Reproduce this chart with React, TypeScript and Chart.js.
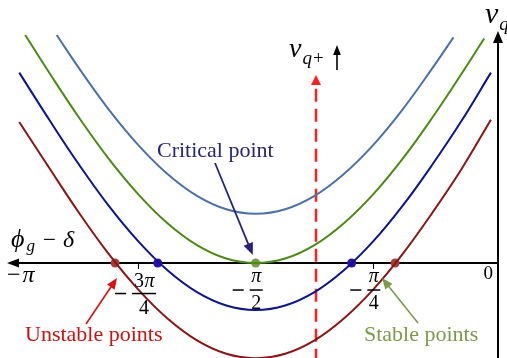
import React, { useEffect, useRef } from "react";
import { Chart, registerables } from "chart.js";

Chart.register(...registerables);

// ---- data (phase angle φg − δ in rad, value in curve units) ----
const phiLightBlue = [-2.9, -2.749, -2.553, -2.356, -2.16, -1.963, -1.767, -1.571, -1.374, -1.178, -0.982, -0.785, -0.589, -0.393, -0.25];
const vLightBlue = [0.97, 0.827, 0.654, 0.503, 0.379, 0.286, 0.229, 0.21, 0.229, 0.286, 0.379, 0.503, 0.654, 0.827, 0.96];

const phiGreen = [-3.11, -2.945, -2.749, -2.553, -2.356, -2.16, -1.963, -1.767, -1.571, -1.374, -1.178, -0.982, -0.785, -0.589, -0.393, -0.196, -0.045];
const vGreen = [0.97, 0.805, 0.617, 0.444, 0.293, 0.169, 0.076, 0.019, 0, 0.019, 0.076, 0.169, 0.293, 0.444, 0.617, 0.805, 0.955];

const phiBlue = [-3.15, -2.945, -2.749, -2.553, -2.356, -2.16, -1.963, -1.767, -1.571, -1.374, -1.178, -0.982, -0.785, -0.589, -0.393, -0.196, 0];
const vBlue = [0.81, 0.605, 0.417, 0.244, 0.093, -0.031, -0.124, -0.181, -0.2, -0.181, -0.124, -0.031, 0.093, 0.244, 0.417, 0.605, 0.81];

const phiRed = [-3.15, -2.945, -2.749, -2.553, -2.356, -2.16, -1.963, -1.767, -1.571, -1.374, -1.178, -0.982, -0.785, -0.589, -0.393, -0.196, 0];
const vRed = [0.6, 0.4, 0.212, 0.039, -0.112, -0.236, -0.329, -0.386, -0.405, -0.386, -0.329, -0.236, -0.112, 0.039, 0.212, 0.4, 0.61];

const criticalPhi = [-1.571];
const criticalV = [0];
const bluePointPhi = [-2.225, -0.93];
const bluePointV = [0, 0];
const redPointPhi = [-2.51, -0.64];
const redPointV = [0, 0];

const vqPlusPhi = [-1.168, -1.168];
const vqPlusV = [-0.42, 0.76];

const tickValues = [-3.1416, -2.3562, -1.5708, -0.7854, 0];
const tickNums = ["π", "3π", "π", "π", "0"];
const tickDens = ["", "4", "2", "4", ""];
const tickMarks = [-2.3562, -0.7854];

const X_MIN = -3.2785;
const X_MAX = 0.1075;
const Y_MIN = -0.404;
const Y_MAX = 1.119;

const SERIF = '"Liberation Serif", "Times New Roman", serif';

function pts(xs: number[], ys: number[]) {
  return xs.map((x, i) => ({ x, y: ys[i] }));
}

function head(ctx: CanvasRenderingContext2D, tx: number, ty: number, fx: number, fy: number, len: number, half: number) {
  const dx = tx - fx;
  const dy = ty - fy;
  const d = Math.hypot(dx, dy) || 1;
  const ux = dx / d;
  const uy = dy / d;
  const bx = tx - ux * len;
  const by = ty - uy * len;
  ctx.beginPath();
  ctx.moveTo(tx, ty);
  ctx.lineTo(bx - uy * half, by + ux * half);
  ctx.lineTo(bx + uy * half, by - ux * half);
  ctx.closePath();
  ctx.fill();
}

function arrow(ctx: CanvasRenderingContext2D, x1: number, y1: number, x2: number, y2: number, color: string, w: number, len: number, half: number) {
  const dx = x2 - x1;
  const dy = y2 - y1;
  const d = Math.hypot(dx, dy) || 1;
  ctx.save();
  ctx.strokeStyle = color;
  ctx.fillStyle = color;
  ctx.lineWidth = w;
  ctx.beginPath();
  ctx.moveTo(x1, y1);
  ctx.lineTo(x2 - (dx / d) * (len - 2), y2 - (dy / d) * (len - 2));
  ctx.stroke();
  head(ctx, x2, y2, x1, y1, len, half);
  ctx.restore();
}

// draws runs of [text, font, dy, gap] left to right from x
function runs(ctx: CanvasRenderingContext2D, x: number, y: number, parts: [string, string, number, number][]) {
  let cx = x;
  for (const [t, f, dy, gap] of parts) {
    ctx.font = f;
    ctx.fillText(t, cx + gap, y + dy);
    cx += gap + ctx.measureText(t).width;
  }
}

const overlay = {
  id: "overlay",
  beforeDatasetsDraw(chart: any) {
    const ctx: CanvasRenderingContext2D = chart.ctx;
    const xs = chart.scales.x;
    const ys = chart.scales.y;
    const y0 = Math.round(ys.getPixelForValue(0));
    const xv = Math.round(xs.getPixelForValue(0)) + 7;
    ctx.save();
    ctx.strokeStyle = "#000";
    ctx.fillStyle = "#000";
    ctx.lineWidth = 2;
    ctx.beginPath();
    ctx.moveTo(16, y0);
    ctx.lineTo(xv, y0);
    ctx.stroke();
    head(ctx, 7, y0, 20, y0, 12, 4.5);
    ctx.beginPath();
    ctx.moveTo(xv, 358);
    ctx.lineTo(xv, 40);
    ctx.stroke();
    head(ctx, xv, 31, xv, 50, 12, 5);
    ctx.lineWidth = 1;
    for (const t of tickMarks) {
      const px = Math.round(xs.getPixelForValue(t)) + 0.5;
      ctx.beginPath();
      ctx.moveTo(px, y0);
      ctx.lineTo(px, y0 + 6);
      ctx.stroke();
    }
    ctx.restore();
  },
  afterDatasetsDraw(chart: any) {
    const ctx: CanvasRenderingContext2D = chart.ctx;
    const xs = chart.scales.x;
    const ys = chart.scales.y;
    const y0 = ys.getPixelForValue(0);
    ctx.save();
    ctx.textBaseline = "alphabetic";
    ctx.fillStyle = "#000";

    // tick labels
    tickValues.forEach((v, i) => {
      const px = xs.getPixelForValue(v);
      const num = tickNums[i];
      const den = tickDens[i];
      if (num === "0") {
        ctx.font = `19px ${SERIF}`;
        ctx.textAlign = "right";
        ctx.fillText("0", px + 2, y0 + 16);
        return;
      }
      if (!den) {
        ctx.textAlign = "left";
        runs(ctx, 7, y0 + 19, [
          ["−", `24px ${SERIF}`, 0, 0],
          [num, `italic 24px ${SERIF}`, 0, 2],
        ]);
        return;
      }
      const fs = 20;
      ctx.font = `italic ${fs}px ${SERIF}`;
      const digit = num.length > 1;
      const numW = digit ? 22 : 11;
      const barW = numW + 2;
      const bc = px + (digit ? 6 : 0.5);
      const numBase = y0 + (digit ? 24 : 19);
      const barY = numBase + (digit ? 6.5 : 8);
      const denBase = barY + (digit ? 20 : 19);
      ctx.textAlign = "center";
      if (digit) {
        ctx.font = `${fs}px ${SERIF}`;
        ctx.fillText("3", bc - 5, numBase);
        ctx.font = `italic ${fs}px ${SERIF}`;
        ctx.fillText("π", bc + 5.5, numBase);
      } else {
        ctx.fillText(num, bc, numBase);
      }
      ctx.font = `${fs}px ${SERIF}`;
      ctx.fillText(den, bc, denBase);
      ctx.fillRect(bc - barW / 2, barY - 0.75, barW, 1.5);
      ctx.fillRect(bc - barW / 2 - 17, barY - 0.75, 11, 1.5);
    });

    ctx.textAlign = "left";
    // axis label φg − δ
    runs(ctx, 11, y0 - 16, [
      ["ϕ", `italic 26px ${SERIF}`, 0, 0],
      ["g", `italic 17px ${SERIF}`, 4, 2],
      ["−", `23px ${SERIF}`, 0, 8],
      ["δ", `italic 24px ${SERIF}`, 0, 7],
    ]);

    // vertical axis label v_q
    runs(ctx, 485, 23, [
      ["v", `italic 30px ${SERIF}`, 0, 0],
      ["q", `italic 19px ${SERIF}`, 7, 1],
    ]);

    // v_q+ ↑ label
    runs(ctx, 289, 57, [
      ["v", `italic 28px ${SERIF}`, 0, 0],
      ["q", `italic 19px ${SERIF}`, 7, 1],
      ["+", `19px ${SERIF}`, 7, 1],
    ]);
    ctx.fillStyle = "#000";
    ctx.strokeStyle = "#000";
    ctx.lineWidth = 1.6;
    ctx.beginPath();
    ctx.moveTo(337, 70);
    ctx.lineTo(337, 52);
    ctx.stroke();
    head(ctx, 337, 45, 337, 60, 10, 3.8);

    // red dashed arrow head
    const xd = xs.getPixelForValue(vqPlusPhi[0]);
    ctx.fillStyle = "#ff1f1f";
    head(ctx, xd, 75, xd, 90, 10, 5);

    // annotations
    ctx.font = `22px ${SERIF}`;
    ctx.fillStyle = "#25247a";
    ctx.fillText("Critical point", 157, 157);
    ctx.fillStyle = "#cc1111";
    ctx.fillText("Unstable points", 25, 341);
    ctx.fillStyle = "#7b9a4c";
    ctx.fillText("Stable points", 364, 341);

    arrow(ctx, 215, 163, xs.getPixelForValue(-1.59), y0 - 8, "#25247a", 1.8, 12, 5);
    arrow(ctx, 86, 324, 117, 278, "#e01010", 1.6, 11, 4.5);
    arrow(ctx, 418, 323, 382, 278, "#7b9a4c", 1.6, 11, 4.5);

    ctx.restore();
  },
};

export default function App() {
  const ref = useRef<HTMLCanvasElement | null>(null);
  useEffect(() => {
    if (!ref.current) return;
    const line = (label: string, xs: number[], ys: number[], color: string) => ({
      label,
      data: pts(xs, ys),
      borderColor: color,
      backgroundColor: color,
      borderWidth: 2,
      pointRadius: 0,
      showLine: true,
      tension: 0.4,
      fill: false,
    });
    const dots = (label: string, xs: number[], ys: number[], color: string) => ({
      label,
      data: pts(xs, ys),
      borderColor: color,
      backgroundColor: color,
      pointRadius: 4.5,
      pointBorderWidth: 0,
      showLine: false,
    });
    const chart = new Chart(ref.current, {
      type: "scatter",
      data: {
        datasets: [
          line("lightblue", phiLightBlue, vLightBlue, "#4b71a8"),
          line("green", phiGreen, vGreen, "#4b8a14"),
          line("blue", phiBlue, vBlue, "#0b158c"),
          line("red", phiRed, vRed, "#8b1515"),
          {
            label: "vq+",
            data: pts(vqPlusPhi, vqPlusV),
            borderColor: "#ff1f1f",
            borderWidth: 2.5,
            borderDash: [13, 7],
            pointRadius: 0,
            showLine: true,
          },
          dots("critical", criticalPhi, criticalV, "#7a9a48"),
          dots("bluePts", bluePointPhi, bluePointV, "#2b10a8"),
          dots("redPts", redPointPhi, redPointV, "#a33f36"),
        ] as any,
      },
      options: {
        animation: false,
        responsive: false,
        devicePixelRatio: 1,
        layout: { padding: 0, autoPadding: false },
        plugins: { legend: { display: false }, tooltip: { enabled: false }, title: { display: false } },
        scales: {
          x: { type: "linear", min: X_MIN, max: X_MAX, display: false },
          y: { type: "linear", min: Y_MIN, max: Y_MAX, display: false },
        },
      },
      plugins: [overlay],
    });
    return () => chart.destroy();
  }, []);
  return (
    <div style={{ position: "absolute", left: 0, top: 0, width: 507, height: 358, background: "#fff" }}>
      <canvas ref={ref} width={507} height={358} />
    </div>
  );
}
